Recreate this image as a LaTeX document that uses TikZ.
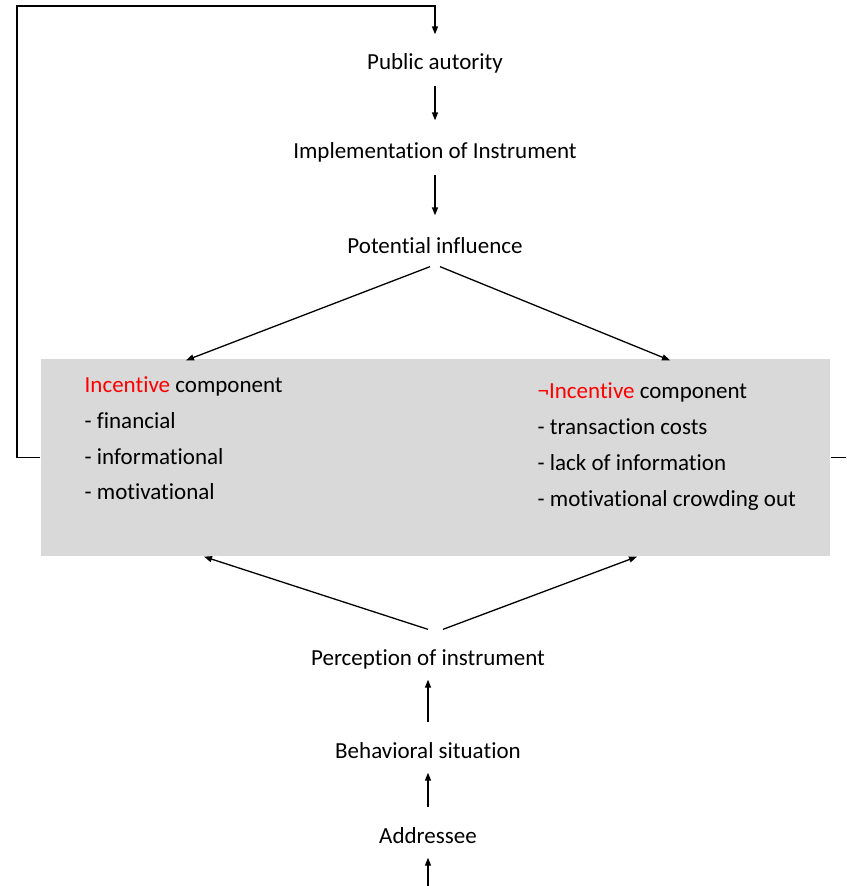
\documentclass[tikz,border=0pt]{standalone}
\usepackage{fontspec}
\setmainfont{Carlito}[Ligatures={NoCommon,NoContextual,NoRequired}]
\usepackage{xcolor}
\usetikzlibrary{arrows.meta}
\usetikzlibrary{positioning}

\definecolor{boxgray}{RGB}{217,217,217}
\definecolor{incred}{RGB}{255,0,0}

\begin{document}
\begin{tikzpicture}[x=1pt, y=-1pt, >={Triangle[length=8pt,width=6pt]}, line width=1.3pt]
\tikzstyle{flowtext} = [font=\fontsize{23}{28}\selectfont, inner sep=0pt, text height=17pt, text depth=6pt, anchor=base]
\tikzstyle{listtext} = [font=\fontsize{23}{28}\selectfont, inner sep=0pt, anchor=base west]
\tikzstyle{down} = [->, shorten <=10pt, shorten >=20pt]
\tikzstyle{up} = [->, shorten <=18pt, shorten >=8pt]

\useasboundingbox (0,0) rectangle (846,886);

% upper chain
\node[flowtext] (pub) at (435,69) {Public autority};
\node[flowtext] (impl) at (435,158) {Implementation of Instrument};
\node[flowtext] (pot) at (435,253) {Potential influence};

% grey box with both components
\node[fill=boxgray, inner sep=0pt, minimum width=789pt, minimum height=197pt] (box) at (435.5,457.5) {};

\node[listtext] (incL) at (84,392) {\textcolor{incred}{Incentive} component};
\node[listtext] (finL) at (84,428) {- financial};
\node[listtext] (infL) at (84,464) {- informational};
\node[listtext] (motL) at (84,499) {- motivational};

\node[listtext] (incR) at (537,398) {\textcolor{incred}{¬Incentive} component};
\node[listtext] (traR) at (537,434) {- transaction costs};
\node[listtext] (lacR) at (537,470) {- lack of information};
\node[listtext] (motR) at (537,506) {- motivational crowding out};

% lower chain
\node[flowtext] (perc) at (428,665) {Perception of instrument};
\node[flowtext] (behav) at (428,758) {Behavioral situation};
\node[flowtext] (addr) at (428,843) {Addressee};

\coordinate (corner) at (17,6);
\coordinate (rightend) at (846,457.5);
\coordinate (bottom) at (428,886);

\draw[down] (pub) -- (impl);
\draw[down] (impl) -- (pot);

\draw[->] ([xshift=-5pt,yshift=-7pt]pot.south) -- ([xshift=-249.5pt,yshift=-2pt]box.north);
\draw[->] ([xshift=5pt,yshift=-7pt]pot.south) -- ([xshift=234.5pt,yshift=-2pt]box.north);

\draw[->] ([xshift=0pt,yshift=18pt]perc.north) -- ([xshift=-231.5pt]box.south);
\draw[->] ([xshift=15pt,yshift=18pt]perc.north) -- ([xshift=201.5pt]box.south);

\draw[up] (behav) -- (perc);
\draw[up] (addr) -- (behav);
\draw[->, shorten >=8pt] (bottom) -- (addr);

% feedback loop
\draw[->, shorten >=17pt] (box.west) -| (corner) -| (pub.north);
\draw (box.east) -- (rightend);

\end{tikzpicture}
\end{document}
